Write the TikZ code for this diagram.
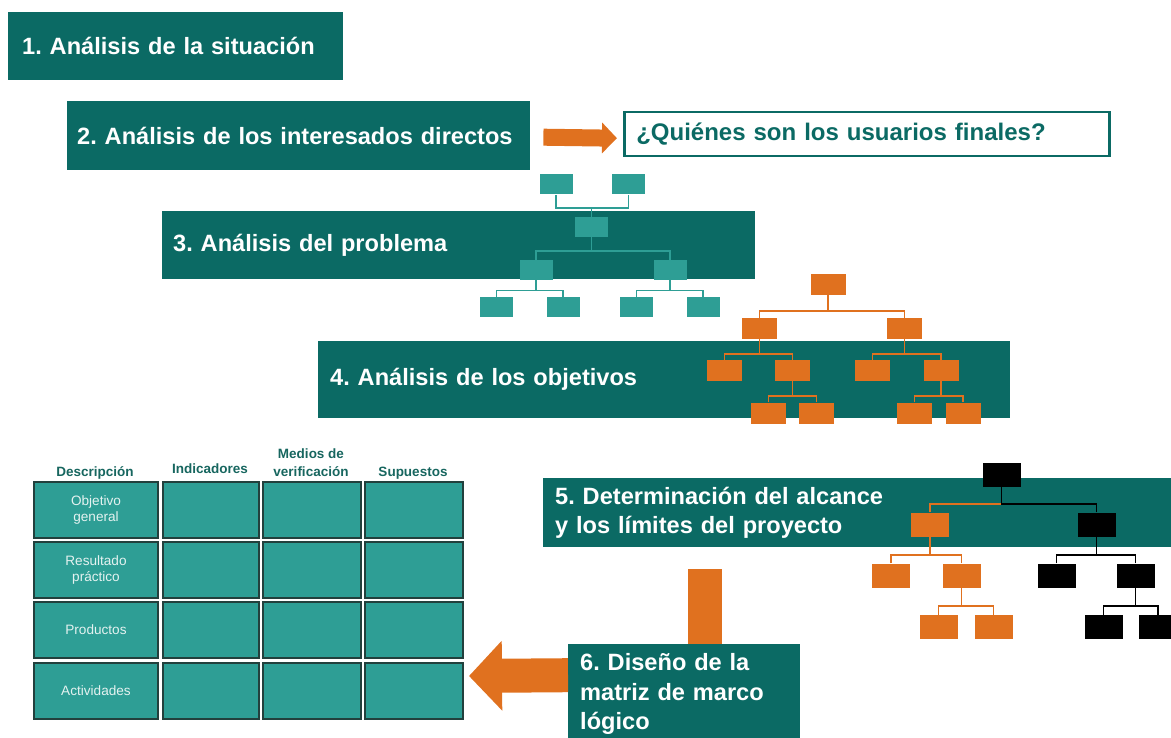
\documentclass[tikz,border=0pt]{standalone}
\usepackage{fontspec}
\setmainfont{Liberation Sans}
\usetikzlibrary{calc,arrows.meta}
\definecolor{darkteal}{HTML}{0B6A64}
\definecolor{lightteal}{HTML}{2E9E95}
\definecolor{boxorange}{HTML}{E0711F}
\definecolor{tabline}{HTML}{22403D}
\definecolor{headteal}{HTML}{17665F}
\definecolor{celltext}{HTML}{E4F2F0}
\frenchspacing

\begin{document}
\begin{tikzpicture}[x=1pt, y=-1pt,
    banner/.style={anchor=north west, fill=darkteal, text=white, align=left,
      font=\fontsize{23.6}{29.5}\selectfont\bfseries},
    tbox/.style={fill=lightteal, minimum width=33pt, minimum height=20pt},
    obox/.style={fill=boxorange, minimum width=35pt, minimum height=21pt},
    pbox/.style={fill=boxorange, minimum width=38pt, minimum height=24pt},
    kbox/.style={fill=black, minimum width=38pt, minimum height=24pt},
    head/.style={anchor=base, text=headteal, align=center,
      font=\fontsize{13.5}{18}\selectfont\bfseries},
    cell/.style={anchor=north west, fill=lightteal, draw=tabline, line width=2pt,
      minimum height=56pt, align=center, text=celltext, font=\fontsize{13.6}{16.5}\selectfont},
    bigarrow/.style={draw=boxorange, line width=#1},
    twig/.style={line width=1.8pt}]
  \tikzstyle{every node}=[inner sep=0pt]
  \useasboundingbox (0,0) rectangle (1171,738);

  \node[banner, inner xsep=14pt, text width=307pt, minimum height=68pt] (b1) at (8,12) {1. Análisis de la situación};
  \node[banner, inner xsep=10pt, text width=443pt, minimum height=69pt] (b2) at (67,101) {2. Análisis de los interesados directos};
  \node[banner, inner xsep=11pt, text width=571pt, minimum height=68pt] (b3) at (162,211) {3. Análisis del problema};
  \node[banner, inner xsep=12pt, text width=668pt, minimum height=77pt] (b4) at (318,341) {4. Análisis de los objetivos};
  \node[banner, inner xsep=12pt, text width=616pt, minimum height=69pt] (b5) at (543,478) {5. Determinación del alcance\\y los límites del proyecto};

  \node[anchor=north west, draw=darkteal, line width=2.5pt, fill=white, text=darkteal,
    inner xsep=12pt, text width=461pt, minimum height=44pt, align=left,
    font=\fontsize{24}{29}\selectfont\bfseries] (q) at (623,111) {¿Quiénes son los usuarios finales?};
  \draw[bigarrow=17pt, -{Triangle[length=15pt,width=30pt]}] ([shift={(13,1.5)}]b2.east) -- ([shift={(-6,4)}]q.west);

  % problema
  \node[tbox] (t1) at (556,184.5) {};
  \node[tbox] (t2) at (628.5,184.5) {};
  \node[tbox] (t3) at (591.5,227) {};
  \node[tbox] (t4) at (536,270) {};
  \node[tbox] (t5) at (670,270) {};
  \node[tbox] (t6) at (496.5,307.5) {};
  \node[tbox] (t7) at (563,307.5) {};
  \node[tbox] (t8) at (636.5,307.5) {};
  \node[tbox] (t9) at (703,307.5) {};
  \foreach \p/\c in {t1/t3, t2/t3, t3/t4, t3/t5, t4/t6, t4/t7, t5/t8, t5/t9}
    \draw[twig, lightteal] (\c.north) |- ($(\c.north)!.4!(\p.south)$) -| (\p.south);

  % objetivos
  \node[obox] (o1) at (828,284.5) {};
  \node[obox] (o2) at (759.5,328.5) {};
  \node[obox] (o3) at (904.5,328.5) {};
  \node[obox] (o4) at (724.5,370.5) {};
  \node[obox] (o5) at (792.5,370.5) {};
  \node[obox] (o6) at (872.5,370.5) {};
  \node[obox] (o7) at (941,370.5) {};
  \node[obox] (o8) at (768.5,413) {};
  \node[obox] (o9) at (816.5,413) {};
  \node[obox] (o10) at (914.5,413) {};
  \node[obox] (o11) at (963,413) {};
  \foreach \p/\c in {o1/o2, o1/o3, o2/o4, o2/o5, o3/o6, o3/o7, o5/o8, o5/o9, o7/o10, o7/o11}
    \draw[twig, boxorange] (\c.north) |- ($(\c.north)!.3!(\p.south)$) -| (\p.south);

  % alcance
  \node[kbox] (k1) at (1001.5,474.5) {};
  \node[pbox] (p1) at (930,524.5) {};
  \node[kbox] (k2) at (1096.5,524.5) {};
  \node[pbox] (p2) at (891,575.5) {};
  \node[pbox] (p3) at (961.5,575.5) {};
  \node[kbox] (k3) at (1056.5,575.5) {};
  \node[kbox] (k4) at (1135.5,575.5) {};
  \node[pbox] (p4) at (938.5,627) {};
  \node[pbox] (p5) at (993.5,627) {};
  \node[kbox] (k5) at (1103.5,627) {};
  \node[kbox] (k6) at (1158,627) {};
  \foreach \p/\c in {k1/p1, p1/p2, p1/p3, p3/p4, p3/p5}
    \draw[twig, boxorange] (\c.north) |- ($(\c.north)!.32!(\p.south)$) -| (\p.south);
  \foreach \p/\c in {k1/k2, k2/k3, k2/k4, k4/k5, k4/k6}
    \draw[twig, black] (\c.north) |- ($(\c.north)!.32!(\p.south)$) -| (\p.south);

  % matriz
  \node[head] (h1) at (95,476) {Descripción};
  \node[head] (h2) at (210,473) {Indicadores};
  \node[head] (h3) at (311,476) {Medios de\\verificación};
  \node[head] (h4) at (413,476) {Supuestos};
  \foreach \r/\ry/\lab in {1/481/{Objetivo\\general}, 2/541/{Resultado\\práctico}, 3/601/Productos, 4/662/Actividades}
    \node[cell, minimum width=124pt] (c\r1) at (33,\ry) {\lab};
  \foreach \r/\ry in {1/481, 2/541, 3/601, 4/662}
    \foreach \c/\cx/\cw in {2/162/96, 3/262/98, 4/364/98}
      \node[cell, minimum width=\cw*1pt] (c\r\c) at (\cx,\ry) {};

  \coordinate (vb) at (705,569);
  \draw[bigarrow=34pt] (vb) -- (vb |- 0,680);
  \node[banner, inner xsep=12pt, text width=208pt, minimum height=100pt] (b6) at (568,644) {6. Diseño de la\\matriz de marco\\lógico};
  \draw[bigarrow=34pt, -{Triangle[length=33pt,width=68pt]}] ([shift={(0,-19)}]b6.west) -- ([shift={(5,-15)}]c44.east);
\end{tikzpicture}
\end{document}
